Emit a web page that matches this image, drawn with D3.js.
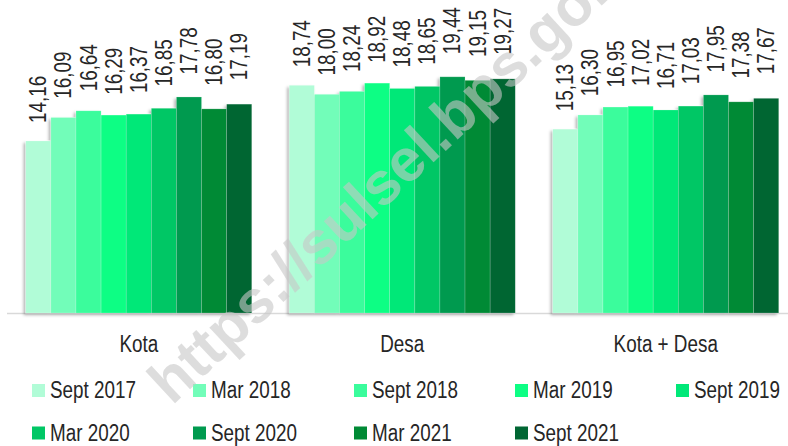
<!DOCTYPE html>
<html>
<head>
<meta charset="utf-8">
<script src="https://cdn.jsdelivr.net/npm/d3@7"></script>
<style>
    body { margin: 0; background: #ffffff; }
    svg { display: block; }
    text { font-family: "Liberation Sans", Arial, sans-serif; fill: #262626; }
</style>
</head>
<body>
<div id="chart"></div>
<script>
// chart data
var categories = ["Kota", "Desa", "Kota + Desa"];
var periods = ["Sept 2017", "Mar 2018", "Sept 2018", "Mar 2019", "Sept 2019",
               "Mar 2020", "Sept 2020", "Mar 2021", "Sept 2021"];
var kota     = [14.16, 16.09, 16.64, 16.29, 16.37, 16.85, 17.78, 16.80, 17.19];
var desa     = [18.74, 18.00, 18.24, 18.92, 18.48, 18.65, 19.44, 19.15, 19.27];
var kotaDesa = [15.13, 16.30, 16.95, 17.02, 16.71, 17.03, 17.95, 17.38, 17.67];
var barColors = ["#b1fcd7", "#72fdb9", "#3afc9c", "#0dfe84", "#00e878",
                 "#00c765", "#009a4f", "#008a35", "#006633"];

function init() {
    var w = 788, h = 446;
    var baseY = 313;
    var narrow = "scale(0.82,1)"; // no narrow font installed, squeeze Liberation Sans

    var series = [kota, desa, kotaDesa];
    var dataset = categories.map(function (c, i) {
        return { category: c, values: periods.map(function (p, j) { return { period: p, value: series[i][j], idx: j }; }) };
    });

    var svg = d3.select("#chart").append("svg")
        .attr("width", w)
        .attr("height", h);

    // soft shadow like the original office chart
    var defs = svg.append("defs");
    var f = defs.append("filter").attr("id", "shadow")
        .attr("x", "-10%").attr("y", "-10%").attr("width", "120%").attr("height", "120%");
    f.append("feDropShadow")
        .attr("dx", -2).attr("dy", 2).attr("stdDeviation", 1.6)
        .attr("flood-color", "#000").attr("flood-opacity", 0.3);

    // scales
    var x0 = d3.scaleBand()
        .domain(categories)
        .range([7, 797.5])
        .paddingInner(0.1423)
        .paddingOuter(0.0712);

    var x1 = d3.scaleBand()
        .domain(periods)
        .range([0, x0.bandwidth()]);

    var y = d3.scaleLinear()
        .domain([0, 20])
        .range([baseY, baseY - 243]);

    var color = d3.scaleOrdinal().domain(periods).range(barColors);

    var fmt = d3.formatLocale({ decimal: ",", thousands: ".", grouping: [3], currency: ["", ""] }).format(".2f");

    // baseline
    svg.append("line")
        .attr("x1", 7).attr("x2", w)
        .attr("y1", baseY + 0.5).attr("y2", baseY + 0.5)
        .attr("stroke", "#d9d9d9")
        .attr("stroke-width", 1.5);

    var groups = svg.selectAll("g.group")
        .data(dataset)
        .enter().append("g")
        .attr("class", "group")
        .attr("transform", function (d) { return "translate(" + x0(d.category) + ",0)"; });

    groups.append("g")
        .attr("filter", "url(#shadow)")
        .selectAll("rect")
        .data(function (d) { return d.values; })
        .enter().append("rect")
        .attr("x", function (d) { return x1(d.period); })
        .attr("y", function (d) { return y(d.value); })
        .attr("width", x1.bandwidth())
        .attr("height", function (d) { return baseY - y(d.value); })
        .attr("fill", function (d) { return color(d.period); })
        .attr("stroke", "rgba(255,255,255,0.3)")
        .attr("stroke-width", 0.6);

    // value labels, rotated
    groups.selectAll("text.val")
        .data(function (d) { return d.values; })
        .enter().append("text")
        .attr("class", "val")
        .attr("transform", function (d) {
            var cx = x1(d.period) + x1.bandwidth() / 2 + 8;
            var cy = y(d.value) - 18 - d.idx * 0.75;
            return "translate(" + cx + "," + cy + ") rotate(-90) " + narrow;
        })
        .style("font-size", "23px")
        .text(function (d) { return fmt(d.value); });

    // category labels
    svg.selectAll("text.cat")
        .data(categories)
        .enter().append("text")
        .attr("class", "cat")
        .attr("transform", function (d) { return "translate(" + (x0(d) + x0.bandwidth() / 2) + ",352) " + narrow; })
        .attr("text-anchor", "middle")
        .style("font-size", "23px")
        .text(function (d) { return d; });

    // legend
    var legend = svg.selectAll("g.legend")
        .data(periods)
        .enter().append("g")
        .attr("class", "legend")
        .attr("transform", function (d, i) {
            var col = i % 5, row = Math.floor(i / 5);
            return "translate(" + (32 + col * 161) + "," + (384 + row * 42.5) + ")";
        });

    legend.append("rect")
        .attr("width", 13)
        .attr("height", 13)
        .attr("fill", function (d) { return color(d); });

    legend.append("text")
        .attr("transform", "translate(18,14) " + narrow)
        .style("font-size", "23px")
        .text(function (d) { return d; });

    // watermark
    svg.append("text")
        .attr("transform", "translate(172,406) rotate(-43)")
        .style("font-weight", "bold")
        .style("font-size", "60px")
        .style("fill", "#c8c8c8")
        .style("opacity", 0.6)
        .text("https://sulsel.bps.go.id");
}

window.onload = init;
</script>
</body>
</html>
